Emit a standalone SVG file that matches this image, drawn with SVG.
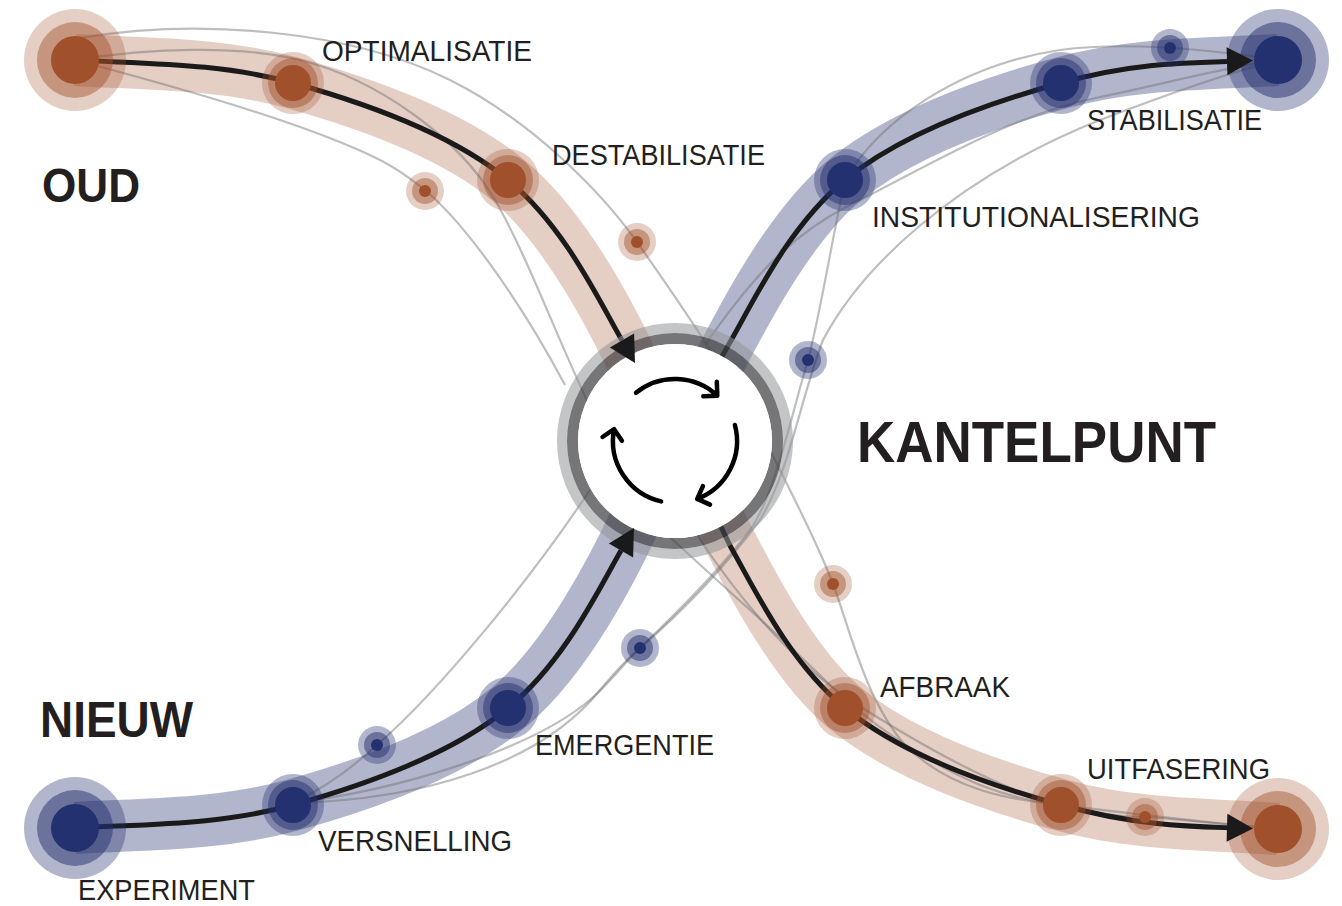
<svg xmlns="http://www.w3.org/2000/svg" width="1342" height="906" viewBox="0 0 1342 906">
<defs>
<style>
.band-o{fill:none;stroke:#a0502b;stroke-opacity:.28;stroke-width:52}
.band-b{fill:none;stroke:#232f6e;stroke-opacity:.35;stroke-width:52}
.alt{fill:none;stroke:#6d6e71;stroke-opacity:.45;stroke-width:2.2}
.flow{fill:none;stroke:#1a1a1a;stroke-width:5}
.head{fill:#1a1a1a}
.ho{fill:#a0502b;fill-opacity:.28}.mo{fill:#a0502b;fill-opacity:.45}.co{fill:#a0502b}
.hb{fill:#232f6e;fill-opacity:.35}.mb{fill:#232f6e;fill-opacity:.5}.cb{fill:#233170}
.cyc{fill:none;stroke:#000;stroke-width:4.5;stroke-linecap:round;stroke-linejoin:round}
.lbl{font-family:"Liberation Sans",Arial,sans-serif;font-size:29px;fill:#231f20}
.big{font-family:"Liberation Sans",Arial,sans-serif;font-weight:bold;fill:#231f20}
</style>
</defs>
<rect width="1342" height="906" fill="#fff"/>
<g id="connectors">
<path class="band-o" d="M75,60 C148,64 221,63 293,83 C365,103 451,133 508,180 C565,227 615,320 650,400"/>
<path class="band-b" d="M75,828 C148,824 221,825 293,805 C365,785 451,755 508,708 C565,661 615,568 650,488"/>
<path class="band-b" d="M700,400 C740,320 788,227 845,180 C902,133 988,103 1061,83 C1132,63 1205,64 1278,60"/>
<path class="band-o" d="M700,482 C740,562 788,661 845,708 C902,755 988,785 1061,805 C1132,825 1205,824 1278,829"/>
<path class="alt" d="M80,38 C200,18 350,30 450,80 C530,120 600,190 637,242 C675,296 740,390 775,460 C800,510 820,550 833,584 C848,623 865,700 905,745 C950,790 1010,800 1061,805 C1120,812 1200,822 1278,829"/>
<path class="alt" d="M75,60 C150,48 240,45 300,60 C380,80 460,140 495,200 C525,252 550,320 580,385 C600,430 630,500 670,537 C710,575 780,635 830,685 C860,715 920,760 980,785 C1010,797 1035,802 1061,805"/>
<path class="alt" d="M75,60 C150,80 300,120 380,160 C400,170 412,180 425,190 C470,228 525,310 565,385"/>
<path class="alt" d="M293,803 C320,790 350,770 377,745 C440,690 530,580 590,490"/>
<path class="alt" d="M293,803 C400,790 530,750 590,700 C610,683 625,662 640,648 C680,610 720,570 750,530 C775,495 790,420 808,360 C820,315 830,250 845,180"/>
<path class="alt" d="M293,803 C420,800 540,765 600,690 C615,672 628,658 640,648 C690,605 730,560 760,520 C790,470 800,400 823,340 C860,270 950,180 1100,120 C1160,97 1220,75 1278,60"/>
<path class="alt" d="M845,180 C880,120 960,65 1060,50 C1120,42 1200,48 1278,60"/>
<path class="alt" d="M705,345 C750,280 790,235 850,205 C930,165 1010,115 1100,97 C1160,85 1220,68 1278,60"/>
<path class="alt" d="M697,535 C740,600 790,660 850,700 C920,745 1000,790 1061,805 C1100,815 1130,817 1145,817 C1190,820 1240,826 1278,829"/>
<path class="flow" d="M75,60 C148,64 221,63 293,83 C365,103 451,133 508,180 C565,227 599.5,301.5 622,340.5"/>
<path class="flow" d="M75,828 C148,824 221,825 293,805 C365,785 451,755 508,708 C565,661 598.5,589.5 621,550.5"/>
<path class="flow" d="M710,378 L731,340.5 C753.5,301.5 788,227 845,180 C902,133 988,103 1061,83 C1132,63 1190,62.5 1227,61.5"/>
<path class="flow" d="M710,504 L731,547.5 C753.5,586.5 788,661 845,708 C902,755 988,785 1061,805 C1132,825 1190,826.5 1227,827.7"/>
</g>
<g id="node-oud"><circle class="ho" cx="75" cy="60" r="51"/><circle class="mo" cx="75" cy="60" r="38"/><circle class="co" cx="75" cy="60" r="24"/></g>
<g id="node-optimalisatie"><circle class="ho" cx="293" cy="83" r="31"/><circle class="mo" cx="293" cy="83" r="25"/><circle class="co" cx="293" cy="83" r="18"/></g>
<g id="node-destabilisatie"><circle class="ho" cx="508" cy="180" r="31"/><circle class="mo" cx="508" cy="180" r="25"/><circle class="co" cx="508" cy="180" r="18"/></g>
<g id="node-experiment"><circle class="hb" cx="75" cy="828" r="51"/><circle class="mb" cx="75" cy="828" r="38"/><circle class="cb" cx="75" cy="828" r="24"/></g>
<g id="node-versnelling"><circle class="hb" cx="293" cy="805" r="31"/><circle class="mb" cx="293" cy="805" r="25"/><circle class="cb" cx="293" cy="805" r="18"/></g>
<g id="node-emergentie"><circle class="hb" cx="508" cy="708" r="31"/><circle class="mb" cx="508" cy="708" r="25"/><circle class="cb" cx="508" cy="708" r="18"/></g>
<g id="node-institutionalisering"><circle class="hb" cx="845" cy="180" r="31"/><circle class="mb" cx="845" cy="180" r="25"/><circle class="cb" cx="845" cy="180" r="18"/></g>
<g id="node-stabilisatie"><circle class="hb" cx="1061" cy="83" r="31"/><circle class="mb" cx="1061" cy="83" r="25"/><circle class="cb" cx="1061" cy="83" r="18"/></g>
<g id="node-nieuw-eind"><circle class="hb" cx="1278" cy="60" r="51"/><circle class="mb" cx="1278" cy="60" r="38"/><circle class="cb" cx="1278" cy="60" r="24"/></g>
<g id="node-afbraak"><circle class="ho" cx="845" cy="708" r="31"/><circle class="mo" cx="845" cy="708" r="25"/><circle class="co" cx="845" cy="708" r="18"/></g>
<g id="node-uitfasering"><circle class="ho" cx="1061" cy="805" r="31"/><circle class="mo" cx="1061" cy="805" r="25"/><circle class="co" cx="1061" cy="805" r="18"/></g>
<g id="node-oud-eind"><circle class="ho" cx="1278" cy="829" r="51"/><circle class="mo" cx="1278" cy="829" r="38"/><circle class="co" cx="1278" cy="829" r="24"/></g>
<g id="node-s1"><circle class="ho" cx="425" cy="191" r="19"/><circle class="mo" cx="425" cy="191" r="13"/><circle class="co" cx="425" cy="191" r="6"/></g>
<g id="node-s2"><circle class="ho" cx="637" cy="242" r="19"/><circle class="mo" cx="637" cy="242" r="13"/><circle class="co" cx="637" cy="242" r="6"/></g>
<g id="node-s3"><circle class="hb" cx="808" cy="360" r="19"/><circle class="mb" cx="808" cy="360" r="13"/><circle class="cb" cx="808" cy="360" r="6"/></g>
<g id="node-s4"><circle class="ho" cx="833" cy="584" r="19"/><circle class="mo" cx="833" cy="584" r="13"/><circle class="co" cx="833" cy="584" r="6"/></g>
<g id="node-s5"><circle class="hb" cx="640" cy="648" r="19"/><circle class="mb" cx="640" cy="648" r="13"/><circle class="cb" cx="640" cy="648" r="6"/></g>
<g id="node-s6"><circle class="hb" cx="377" cy="745" r="19"/><circle class="mb" cx="377" cy="745" r="13"/><circle class="cb" cx="377" cy="745" r="6"/></g>
<g id="node-s7"><circle class="hb" cx="1170" cy="48" r="19"/><circle class="mb" cx="1170" cy="48" r="13"/><circle class="cb" cx="1170" cy="48" r="6"/></g>
<g id="node-s8"><circle class="ho" cx="1145" cy="817" r="19"/><circle class="mo" cx="1145" cy="817" r="13"/><circle class="co" cx="1145" cy="817" r="6"/></g>
<g id="node-kantelpunt">
<circle cx="675" cy="441" r="113" fill="none" stroke="#939598" stroke-opacity=".55" stroke-width="10"/>
<circle cx="675" cy="441" r="102.5" fill="none" stroke="#414042" stroke-opacity=".72" stroke-width="11"/>
<circle cx="675" cy="441" r="97" fill="#fff"/>
<path class="cyc" d="M636,392.8 A62,62 0 0 1 717.3,395.7 M716.8,381.7 L717.3,395.7 L703.3,396.2"/>
<path class="cyc" d="M734.9,425 A62,62 0 0 1 697.2,498.9 M702.9,486.1 L697.2,498.9 L710,504.6"/>
<path class="cyc" d="M661.1,501.4 A62,62 0 0 1 614.1,429.2 M602.5,437 L614.1,429.2 L621.9,440.8"/>
</g>
<g id="connector-heads">
<polygon class="head" points="635,363 609.9,347.5 634.1,333.5"/>
<polygon class="head" points="634,528 633.1,557.5 608.9,543.5"/>
<polygon class="head" points="1253,60.5 1227.4,75.3 1226.6,47.3"/>
<polygon class="head" points="1253,828.5 1226.6,841.7 1227.4,813.7"/>
</g>
<g id="labels">
<text class="lbl" x="322" y="61" textLength="210" lengthAdjust="spacingAndGlyphs">OPTIMALISATIE</text>
<text class="lbl" x="552" y="165" textLength="213" lengthAdjust="spacingAndGlyphs">DESTABILISATIE</text>
<text class="lbl" x="1087" y="130" textLength="175" lengthAdjust="spacingAndGlyphs">STABILISATIE</text>
<text class="lbl" x="872" y="227" textLength="328" lengthAdjust="spacingAndGlyphs">INSTITUTIONALISERING</text>
<text class="lbl" x="880" y="697" textLength="130" lengthAdjust="spacingAndGlyphs">AFBRAAK</text>
<text class="lbl" x="1087" y="779" textLength="183" lengthAdjust="spacingAndGlyphs">UITFASERING</text>
<text class="lbl" x="535" y="755" textLength="179" lengthAdjust="spacingAndGlyphs">EMERGENTIE</text>
<text class="lbl" x="318" y="851" textLength="194" lengthAdjust="spacingAndGlyphs">VERSNELLING</text>
<text class="lbl" x="78" y="900" textLength="177" lengthAdjust="spacingAndGlyphs">EXPERIMENT</text>
<text class="big" x="42" y="202" font-size="48" textLength="98" lengthAdjust="spacingAndGlyphs">OUD</text>
<text class="big" x="40" y="737" font-size="50" textLength="153" lengthAdjust="spacingAndGlyphs">NIEUW</text>
<text class="big" x="857" y="462" font-size="58" textLength="359" lengthAdjust="spacingAndGlyphs">KANTELPUNT</text>
</g>
</svg>
